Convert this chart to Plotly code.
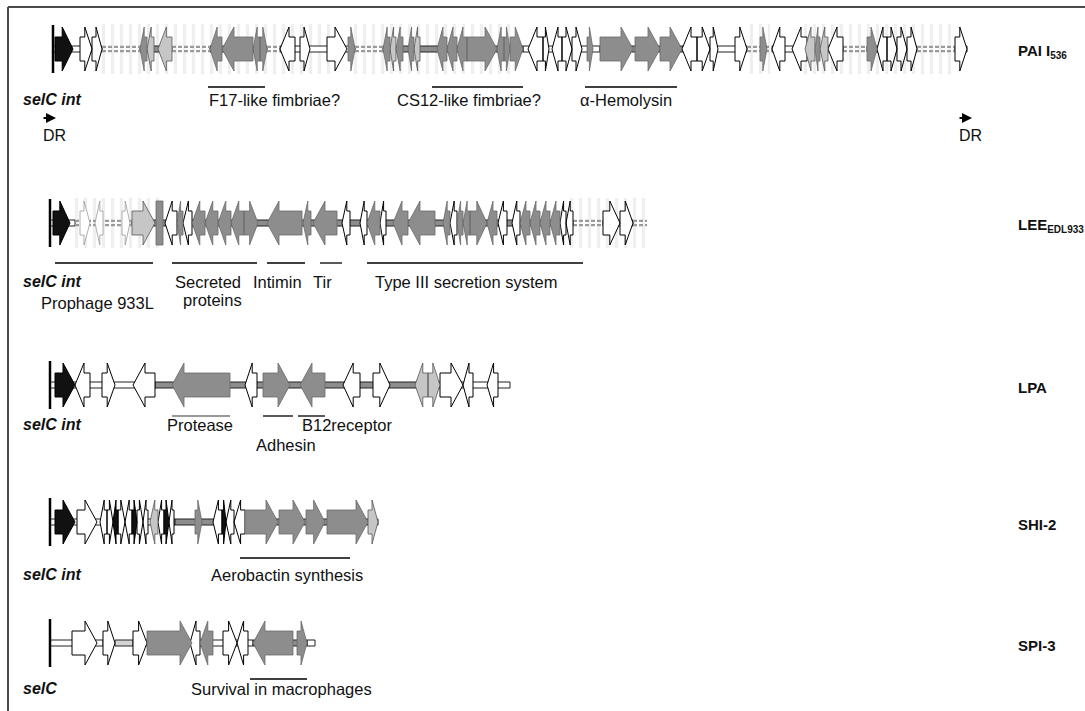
import plotly.graph_objects as go

# ---------------------------------------------------------------
# Genetic maps of five selC-associated islands.
# Gene tuples: (start, end, strand, kind)
#   kind: k = integrase / black, w = white ORF, g = virulence ORF (grey),
#         l = light grey ORF, f = faded ORF
# Backbone tuples: (start, end, style) with style w / g / l / d (dashed)
# ---------------------------------------------------------------

SUB = '<sub><span style="font-size:10px">{}</span></sub>'
LOCI = ["PAI I" + SUB.format("536"), "LEE" + SUB.format("EDL933"), "LPA", "SHI-2", "SPI-3"]
ROW_Y = [49, 223, 385, 522, 643]
ROW_START = [53, 50, 50, 50, 50]

PAI_GENES = [
    (55, 73, 1, "k"), (80, 92, 1, "w"), (92, 102, 1, "w"),
    (140, 147, -1, "g"), (147, 154, -1, "l"), (158, 172, -1, "l"),
    (210, 222, -1, "g"), (222, 253, -1, "g"), (253, 260, -1, "g"), (260, 267, 1, "g"),
    (280, 295, -1, "w"), (300, 310, 1, "w"), (327, 347, 1, "w"), (348, 355, 1, "g"),
    (383, 390, -1, "g"), (390, 396, -1, "l"), (396, 403, -1, "g"),
    (408, 414, -1, "g"), (414, 420, -1, "l"),
    (437, 447, -1, "g"), (447, 457, -1, "g"), (457, 467, -1, "g"), (467, 497, 1, "g"),
    (497, 504, -1, "g"), (504, 510, 1, "g"), (510, 523, 1, "g"),
    (528, 543, -1, "w"), (543, 549, 1, "w"), (552, 562, -1, "w"), (562, 572, 1, "w"),
    (572, 582, 1, "w"), (587, 593, 1, "g"), (600, 633, 1, "g"), (635, 660, 1, "g"),
    (660, 682, 1, "g"), (682, 697, -1, "w"), (697, 710, 1, "w"), (710, 718, 1, "w"),
    (735, 747, 1, "w"), (760, 767, 1, "g"), (772, 785, -1, "w"), (792, 807, -1, "w"),
    (805, 815, -1, "l"), (815, 820, -1, "g"), (820, 828, -1, "l"), (828, 843, -1, "w"),
    (867, 877, 1, "g"), (877, 887, -1, "w"), (887, 897, 1, "w"), (897, 907, 1, "w"),
    (907, 917, 1, "w"), (955, 967, 1, "w"),
]
PAI_BACKBONE = [
    (53, 102, "w"), (102, 140, "d"), (140, 172, "g"), (172, 210, "d"), (210, 267, "g"),
    (267, 280, "d"), (280, 355, "w"), (355, 383, "d"), (383, 523, "g"), (523, 600, "w"),
    (600, 700, "g"), (700, 747, "w"), (747, 772, "d"), (772, 843, "w"), (843, 867, "d"),
    (867, 917, "w"), (917, 955, "d"), (955, 967, "w"),
]
PAI_FADED = [(100, 330), (350, 515), (745, 770), (800, 955)]

LEE_GENES = [
    (53, 70, 1, "k"), (80, 90, 1, "f"), (95, 103, -1, "f"), (122, 130, 1, "f"),
    (132, 155, 1, "l"), (156, 163, 0, "g"),
    (165, 177, -1, "w"), (177, 183, -1, "g"), (183, 192, -1, "w"),
    (192, 205, -1, "g"), (205, 218, -1, "g"), (218, 231, -1, "g"), (231, 244, -1, "g"),
    (244, 258, 1, "g"), (267, 302, -1, "g"), (303, 311, -1, "g"), (313, 337, -1, "g"),
    (342, 350, -1, "w"), (360, 367, -1, "w"), (367, 380, -1, "g"), (380, 386, -1, "w"),
    (393, 408, -1, "g"), (408, 435, -1, "g"), (443, 450, -1, "g"), (450, 457, -1, "w"),
    (457, 463, -1, "g"), (463, 470, -1, "g"), (470, 487, 1, "g"), (487, 497, -1, "g"),
    (498, 507, -1, "w"), (512, 520, -1, "w"), (520, 530, -1, "g"), (530, 540, -1, "g"),
    (540, 550, -1, "g"), (550, 560, -1, "g"), (560, 566, -1, "w"), (566, 573, -1, "w"),
    (603, 620, 1, "w"), (620, 633, 1, "w"),
]
LEE_BACKBONE = [(50, 75, "w"), (75, 132, "d"), (132, 573, "g"), (573, 603, "d"),
                (603, 633, "w"), (633, 647, "d")]
LEE_FADED = [(75, 160), (570, 647)]

LPA_GENES = [
    (55, 75, 1, "k"), (75, 90, -1, "w"), (102, 115, 1, "w"), (133, 155, -1, "w"),
    (172, 230, -1, "g"), (245, 257, -1, "w"), (263, 290, 1, "g"), (300, 325, -1, "g"),
    (343, 360, -1, "w"), (373, 390, 1, "w"), (415, 428, -1, "l"), (428, 440, 1, "l"),
    (440, 463, 1, "w"), (463, 473, -1, "w"), (487, 498, -1, "w"),
]
LPA_BACKBONE = [(50, 155, "w"), (155, 440, "g"), (440, 510, "w")]
LPA_FADED = []

SHI_GENES = [
    (55, 75, 1, "k"), (77, 97, 1, "w"), (100, 107, -1, "w"), (107, 113, 1, "w"),
    (113, 118, -1, "k"), (118, 125, 1, "w"), (125, 132, -1, "w"), (132, 137, 1, "k"),
    (137, 143, 1, "w"), (143, 148, -1, "w"), (150, 158, -1, "l"), (158, 164, -1, "w"),
    (164, 169, 1, "k"), (169, 174, -1, "w"), (195, 202, 1, "g"), (213, 222, -1, "w"),
    (222, 226, 1, "k"), (226, 234, -1, "w"), (234, 245, -1, "w"),
    (245, 278, 1, "g"), (279, 305, 1, "g"), (306, 325, 1, "g"), (327, 368, 1, "g"),
    (368, 378, 1, "l"),
]
SHI_BACKBONE = [(50, 175, "w"), (175, 378, "g")]
SHI_FADED = []

SPI_GENES = [
    (72, 97, 1, "w"), (103, 115, 1, "w"), (133, 147, 1, "w"), (147, 192, 1, "g"),
    (190, 200, -1, "w"), (200, 213, -1, "g"), (223, 237, 1, "w"), (237, 248, -1, "w"),
    (253, 293, -1, "g"), (297, 307, 1, "g"),
]
SPI_BACKBONE = [(50, 103, "w"), (115, 133, "l"), (133, 253, "w"), (253, 307, "g"),
                (307, 315, "w")]
SPI_FADED = []

GENES = [PAI_GENES, LEE_GENES, LPA_GENES, SHI_GENES, SPI_GENES]
BACKBONES = [PAI_BACKBONE, LEE_BACKBONE, LPA_BACKBONE, SHI_BACKBONE, SPI_BACKBONE]
FADED = [PAI_FADED, LEE_FADED, LPA_FADED, SHI_FADED, SPI_FADED]

# Functional regions: (row, x0, x1, line colour)
REGION_LINES = [
    (0, 208, 265, "#000"), (0, 432, 523, "#000"), (0, 585, 677, "#000"),
    (1, 55, 153, "#000"), (1, 172, 257, "#000"), (1, 267, 305, "#000"),
    (1, 320, 342, "#000"), (1, 367, 583, "#000"),
    (2, 172, 230, "#777"), (2, 263, 293, "#000"), (2, 298, 325, "#000"),
    (3, 240, 350, "#000"),
    (4, 250, 307, "#000"),
]
LINE_Y = [87, 263, 416, 558, 679]

# Region labels: (text, x, y)
REGION_LABELS = [
    ("F17-like fimbriae?", 207, 100), ("CS12-like fimbriae?", 395, 100),
    ("\u03b1-Hemolysin", 578, 100),
    ("Secreted", 173, 282), ("proteins", 181, 300), ("Intimin", 251, 282),
    ("Tir", 311, 282), ("Prophage 933L", 39, 303), ("Type III secretion system", 373, 282),
    ("Protease", 165, 425), ("B12receptor", 300, 425), ("Adhesin", 254, 445),
    ("Aerobactin synthesis", 209, 575),
    ("Survival in macrophages", 189, 689),
]
ANCHOR_LABELS = [("selC int", 99), ("selC int", 281), ("selC int", 424),
                 ("selC int", 574), ("selC", 688)]

HEAD_H = 22
BODY_H = 12
BB_H = 3

STYLE = {
    "k": dict(fill="#111111", line="#000000", w=1.0),
    "w": dict(fill="#ffffff", line="#000000", w=1.0),
    "g": dict(fill="#8d8d8d", line="#6a6a6a", w=0.8),
    "l": dict(fill="#c6c6c6", line="#555555", w=0.8),
    "f": dict(fill="#ffffff", line="#9a9a9a", w=0.8),
}


def gene_shape(x0, x1, strand, yc):
    length = x1 - x0
    head = min(12.0, 0.6 * length)
    if strand == 0:
        xs = [x0, x1, x1, x0, x0]
        ys = [yc - HEAD_H, yc - HEAD_H, yc + HEAD_H, yc + HEAD_H, yc - HEAD_H]
    elif strand > 0:
        n = x1 - head
        xs = [x0, n, n, x1, n, n, x0, x0]
        ys = [yc - BODY_H, yc - BODY_H, yc - HEAD_H, yc, yc + HEAD_H, yc + BODY_H,
              yc + BODY_H, yc - BODY_H]
    else:
        n = x0 + head
        xs = [x1, n, n, x0, n, n, x1, x1]
        ys = [yc - BODY_H, yc - BODY_H, yc - HEAD_H, yc, yc + HEAD_H, yc + BODY_H,
              yc + BODY_H, yc - BODY_H]
    return xs, ys


fig = go.Figure()

# faded (hatched) regions behind the maps
for yc, regions in zip(ROW_Y, FADED):
    for a, b in regions:
        fig.add_trace(go.Bar(
            x=[(a + b) / 2], y=[2 * HEAD_H + 6], base=[yc - HEAD_H - 3], width=[b - a],
            marker=dict(color="rgba(0,0,0,0)", line=dict(width=0),
                        pattern=dict(shape="|", fgcolor="#e0e0e0", bgcolor="rgba(0,0,0,0)",
                                     size=9, solidity=0.35)),
            showlegend=False, hoverinfo="skip"))

# backbone
bb_fill = {"w": "#ffffff", "g": "#8d8d8d", "l": "#d4d4d4"}
for style_key in ["w", "g", "l"]:
    xs, ys = [], []
    for yc, segs in zip(ROW_Y, BACKBONES):
        for a, b, s in segs:
            if s != style_key:
                continue
            xs += [a, b, b, a, a, None]
            ys += [yc - BB_H, yc - BB_H, yc + BB_H, yc + BB_H, yc - BB_H, None]
    if xs:
        fig.add_trace(go.Scatter(x=xs, y=ys, mode="lines", fill="toself",
                                 fillcolor=bb_fill[style_key],
                                 line=dict(color="#222", width=1),
                                 showlegend=False, hoverinfo="skip"))
for off in (-2.2, 2.2):
    xs, ys = [], []
    for yc, segs in zip(ROW_Y, BACKBONES):
        for a, b, s in segs:
            if s == "d":
                xs += [a, b, None]
                ys += [yc + off, yc + off, None]
    fig.add_trace(go.Scatter(x=xs, y=ys, mode="lines",
                             line=dict(color="#9a9a9a", width=2.2, dash="4px,2px"),
                             showlegend=False, hoverinfo="skip"))

# genes
for kind in ["f", "w", "l", "g", "k"]:
    xs, ys = [], []
    for yc, genes in zip(ROW_Y, GENES):
        for a, b, s, k in genes:
            if k != kind:
                continue
            gx, gy = gene_shape(a, b, s, yc)
            xs += gx + [None]
            ys += gy + [None]
    st = STYLE[kind]
    fig.add_trace(go.Scatter(x=xs, y=ys, mode="lines", fill="toself",
                             fillcolor=st["fill"], line=dict(color=st["line"], width=st["w"]),
                             showlegend=False, hoverinfo="skip"))

# insertion-site bars at the start of each island
xs, ys = [], []
for x0, yc in zip(ROW_START, ROW_Y):
    xs += [x0, x0, None]
    ys += [yc - 24, yc + 24, None]
fig.add_trace(go.Scatter(x=xs, y=ys, mode="lines", line=dict(color="#000", width=2.5),
                         showlegend=False, hoverinfo="skip"))

shapes = []
for row, a, b, col in REGION_LINES:
    shapes.append(dict(type="line", x0=a, x1=b, y0=LINE_Y[row], y1=LINE_Y[row],
                       line=dict(color=col, width=1.3)))

# frame
shapes.append(dict(type="line", x0=8, x1=8, y0=7, y1=711, line=dict(color="#4a4a4a", width=2)))
shapes.append(dict(type="line", x0=8, x1=1085, y0=7, y1=7, line=dict(color="#4a4a4a", width=2)))

FONT = "Liberation Sans, Arial, sans-serif"
LABEL_SIZE = 16.5
ann = []
for txt, x, y in REGION_LABELS:
    ann.append(dict(x=x, y=y, text=txt, showarrow=False, xanchor="left", yanchor="middle",
                    font=dict(family=FONT, size=LABEL_SIZE, color="#111")))
for txt, y in ANCHOR_LABELS:
    ann.append(dict(x=21, y=y, text="<b><i>" + txt + "</i></b>", showarrow=False,
                    xanchor="left", yanchor="middle",
                    font=dict(family=FONT, size=16, color="#111")))
for name, yc in zip(LOCI, ROW_Y):
    ann.append(dict(x=1016, y=yc + 2, text="<b>" + name + "</b>", showarrow=False,
                    xanchor="left", yanchor="middle",
                    font=dict(family=FONT, size=15, color="#111")))

# direct repeats flanking PAI I536
for x0 in (42, 958):
    ann.append(dict(x=x0 + 14, y=118, ax=x0, ay=118, axref="x", ayref="y", xref="x", yref="y",
                    text="", showarrow=True, arrowhead=2, arrowsize=1, arrowwidth=2,
                    arrowcolor="#000"))
    ann.append(dict(x=x0 - 1, y=135, text="DR", showarrow=False, xanchor="left",
                    yanchor="middle", font=dict(family=FONT, size=16, color="#111")))

fig.update_layout(
    width=1085, height=711, margin=dict(l=0, r=0, t=0, b=0),
    paper_bgcolor="#ffffff", plot_bgcolor="#ffffff",
    xaxis=dict(range=[0, 1085], visible=False, fixedrange=True),
    yaxis=dict(range=[711, 0], visible=False, fixedrange=True),
    barmode="overlay", shapes=shapes, annotations=ann, showlegend=False,
)

fig.write_html("out.html")
